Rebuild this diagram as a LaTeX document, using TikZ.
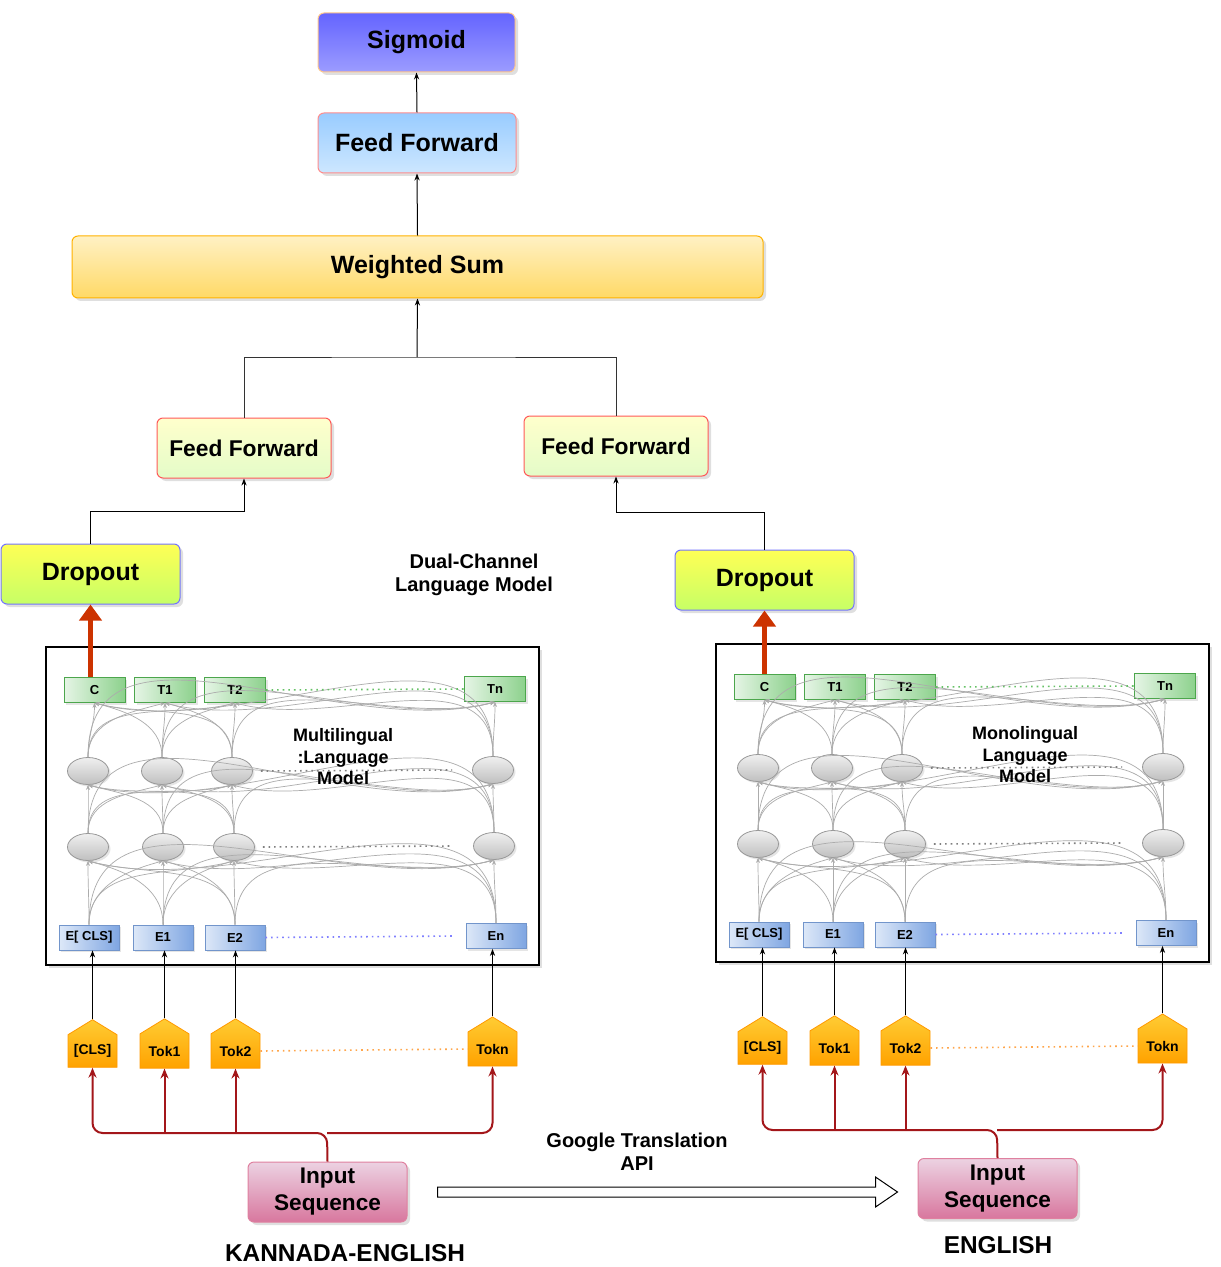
\documentclass[tikz,border=0pt]{standalone}
\usepackage{fontspec}
\setmainfont{Liberation Sans}
\usetikzlibrary{arrows.meta,shapes.geometric,shapes.symbols,shadows,calc}

\definecolor{sigtop}{HTML}{6464FF}
\definecolor{sigbot}{HTML}{9C9CFF}
\definecolor{fftop}{HTML}{99CCFF}
\definecolor{ffbot}{HTML}{CDE7FF}
\definecolor{wstop}{HTML}{FFF1C4}
\definecolor{wsbot}{HTML}{FFD966}
\definecolor{lftop}{HTML}{FFFFCC}
\definecolor{lfbot}{HTML}{E4FCC8}
\definecolor{droptop}{HTML}{FFFF55}
\definecolor{dropbot}{HTML}{C6FF66}
\definecolor{intop}{HTML}{ECD2E2}
\definecolor{inbot}{HTML}{D8779E}
\definecolor{toktop}{HTML}{FFCC33}
\definecolor{tokbot}{HTML}{FFA200}
\definecolor{embleft}{HTML}{DDE8F8}
\definecolor{embright}{HTML}{7FA6E2}
\definecolor{bigred}{HTML}{CC3300}
\definecolor{wirered}{HTML}{A3161A}

\tikzset{
  block/.style={rectangle, rounded corners=3pt, line width=0.5pt, inner sep=0pt,
    font=\bfseries\fontsize{12.5}{15}\selectfont,
    drop shadow={shadow xshift=1.5pt,shadow yshift=-1.5pt,opacity=0.25}},
  sigbox/.style={block, draw=orange!45, top color=sigtop, bottom color=sigbot,
    minimum width=98.5pt, minimum height=29.5pt},
  topff/.style={block, draw=red!45, top color=fftop, bottom color=ffbot,
    minimum width=99pt, minimum height=30pt},
  sumbox/.style={block, draw=orange!60!yellow, top color=wstop, bottom color=wsbot,
    minimum width=345.5pt, minimum height=31pt},
  lowff/.style={block, draw=red!65, top color=lftop, bottom color=lfbot,
    minimum height=30pt, font=\bfseries\fontsize{11.4}{14}\selectfont},
  dropbox/.style={block, draw=blue!55, top color=droptop, bottom color=dropbot,
    minimum width=89.5pt, minimum height=30pt},
  inbox/.style={block, draw=purple!50, top color=intop, bottom color=inbot,
    minimum width=79.5pt, minimum height=30pt, align=center,
    font=\bfseries\fontsize{11.3}{13.5}\selectfont},
  tbox/.style={rectangle, draw=green!50!black!70, left color=green!60!black!10,
    right color=green!60!black!45, minimum width=30.5pt, minimum height=12.5pt,
    inner sep=0pt, font=\bfseries\fontsize{6.5}{7}\selectfont,
    drop shadow={shadow xshift=1pt,shadow yshift=-1pt,opacity=0.2}},
  ebox/.style={rectangle, draw=embright!90!black, left color=embleft, right color=embright,
    minimum width=30pt, minimum height=12.5pt,
    inner sep=0pt, font=\bfseries\fontsize{6.5}{7}\selectfont,
    drop shadow={shadow xshift=1pt,shadow yshift=-1pt,opacity=0.2}},
  unit/.style={ellipse, draw=gray!80, top color=gray!12, bottom color=gray!50,
    minimum width=20.5pt, minimum height=13.5pt, inner sep=0pt,
    drop shadow={shadow xshift=1pt,shadow yshift=-1pt,opacity=0.2}},
  tok/.style={signal, signal to=north, signal from=nowhere, signal pointer angle=117,
    draw=orange!80!yellow, top color=toktop, bottom color=tokbot,
    minimum width=24.5pt, minimum height=22pt, inner sep=0pt,
    font=\bfseries\fontsize{7}{8}\selectfont},
  modelbox/.style={draw=black, line width=0.6pt, fill=white,
    drop shadow={shadow xshift=1.5pt,shadow yshift=-1.5pt,opacity=0.25}},
  modeltext/.style={align=center, font=\bfseries\fontsize{9}{10.75}\selectfont},
  lbl/.style={align=center, font=\bfseries\fontsize{10}{11.5}\selectfont},
  langlbl/.style={font=\bfseries\fontsize{12.2}{14}\selectfont},
  arr/.style={draw=black, line width=0.5pt, -{Stealth[length=3.5pt,width=2.6pt]}},
  wire/.style={draw=black!80, line width=0.5pt},
  attn/.style={draw=gray!65, line width=0.35pt, -{Stealth[length=2.5pt,width=2pt]}},
  redarr/.style={draw=bigred, line width=2.5pt, -{Triangle[length=8pt,width=11pt]}},
  redwire/.style={draw=wirered, line width=1pt, rounded corners=5pt,
    -{Stealth[length=5pt,width=4pt]}},
  apiarrow/.style={draw=black, line width=0.5pt, fill=white}
}

\begin{document}
\begin{tikzpicture}[x=0.5pt,y=-0.5pt]
\useasboundingbox (0,0) rectangle (1220,1267);

% classifier head
\node[sigbox] (sig) at (416.5,42.5) {Sigmoid};
\node[topff] (ff) at (417,143) {Feed Forward};
\node[sumbox] (ws) at (417.5,267) {Weighted Sum};
\draw[arr] (ff.north) -- (sig.south);
\draw[arr] (ws.north) -- (ff.south);

\node[lowff, minimum width=87pt] (LFF) at (244,448) {Feed Forward};
\node[lowff, minimum width=92pt] (RFF) at (616,446) {Feed Forward};
\coordinate (join) at (417,357);
\draw[wire] (LFF.north) |- (join) -| (RFF.north);
\draw[arr] (join) -- (ws.south);

\node[dropbox] (LDrop) at (90.5,574) {Dropout};
\node[dropbox] (RDrop) at (764.5,580) {Dropout};
\draw[arr] (LDrop.north) -- ++(0,-32) -| (LFF.south);
\draw[arr] (RDrop.north) -- ++(0,-37) -| (RFF.south);

\node[lbl] (dual) at (474,575) {Dual-Channel\\Language Model};

\begin{scope}[shift={(0,0)}] % multilingual channel
\draw[modelbox] (46,647) rectangle (539,965);
\node[tbox] (LT0) at (94.5,690) {C};
\node[tbox] (LT1) at (165,690) {T1};
\node[tbox] (LT2) at (235,690) {T2};
\node[tbox] (LT3) at (495,689) {Tn};
\node[unit] (LB0) at (88,771) {};
\node[unit] (LB1) at (162,771) {};
\node[unit] (LB2) at (232,771) {};
\node[unit] (LB3) at (493,770) {};
\node[unit] (LA0) at (88,847) {};
\node[unit] (LA1) at (163,847) {};
\node[unit] (LA2) at (234,847) {};
\node[unit] (LA3) at (494,846) {};
\node[ebox] (LE0) at (89,937.5) {E[ CLS]};
\node[ebox] (LE1) at (163,937.5) {E1};
\node[ebox] (LE2) at (235,937.5) {E2};
\node[ebox] (LE3) at (496,936) {En};
\foreach \s/\t in {LE/LA,LA/LB,LB/LT}
  \foreach \i in {0,...,3}
    \foreach \j in {0,...,3}
      {\ifnum\i<\j \def\ang{195}\else\ifnum\i>\j \def\ang{-15}\else\def\ang{-90}\fi\fi
       \draw[attn] (\s\i.north) to[out=90,in=\ang] (\t\j.south);}
\draw[dotted, thick, green!60!black!60] (LT2.east) -- (LT3.west);
\draw[dotted, thick, gray] ([xshift=4pt]LB2.east) -- ([xshift=-10pt]LB3.west);
\draw[dotted, thick, gray] ([xshift=4pt]LA2.east) -- ([xshift=-10pt]LA3.west);
\draw[dotted, thick, blue!50] (LE2.east) -- ([xshift=-6pt]LE3.west);
\node[modeltext] (Lname) at (343,757) {Multilingual\\:Language\\Model};
\node[tok] (LK0) at (92.5,1051) {[CLS]};
\node[tok] (LK1) at (164.5,1051) {Tok1};
\node[tok] (LK2) at (235.5,1051) {Tok2};
\node[tok] (LK3) at (492.5,1049) {Tokn};
\draw[dotted, thick, orange!70] (LK2.east) -- (LK3.west);
\foreach \i in {0,...,3}
  \draw[arr] (LK\i.north) -- (LK\i.north |- LE\i.south);
\end{scope}

\begin{scope}[shift={(670,-3)}] % monolingual channel
\draw[modelbox] (46,647) rectangle (539,965);
\node[tbox] (RT0) at (94.5,690) {C};
\node[tbox] (RT1) at (165,690) {T1};
\node[tbox] (RT2) at (235,690) {T2};
\node[tbox] (RT3) at (495,689) {Tn};
\node[unit] (RB0) at (88,771) {};
\node[unit] (RB1) at (162,771) {};
\node[unit] (RB2) at (232,771) {};
\node[unit] (RB3) at (493,770) {};
\node[unit] (RA0) at (88,847) {};
\node[unit] (RA1) at (163,847) {};
\node[unit] (RA2) at (235,847) {};
\node[unit] (RA3) at (493,846) {};
\node[ebox] (RE0) at (89,937.5) {E[ CLS]};
\node[ebox] (RE1) at (163,937.5) {E1};
\node[ebox] (RE2) at (235,937.5) {E2};
\node[ebox] (RE3) at (496,936) {En};
\foreach \s/\t in {RE/RA,RA/RB,RB/RT}
  \foreach \i in {0,...,3}
    \foreach \j in {0,...,3}
      {\ifnum\i<\j \def\ang{195}\else\ifnum\i>\j \def\ang{-15}\else\def\ang{-90}\fi\fi
       \draw[attn] (\s\i.north) to[out=90,in=\ang] (\t\j.south);}
\draw[dotted, thick, green!60!black!60] (RT2.east) -- (RT3.west);
\draw[dotted, thick, gray] ([xshift=4pt]RB2.east) -- ([xshift=-10pt]RB3.west);
\draw[dotted, thick, gray] ([xshift=4pt]RA2.east) -- ([xshift=-10pt]RA3.west);
\draw[dotted, thick, blue!50] (RE2.east) -- ([xshift=-6pt]RE3.west);
\node[modeltext] (Rname) at (355,758) {Monolingual\\Language\\Model};
\node[tok] (RK0) at (92.5,1051) {[CLS]};
\node[tok] (RK1) at (164.5,1051) {Tok1};
\node[tok] (RK2) at (235.5,1051) {Tok2};
\node[tok] (RK3) at (492.5,1049) {Tokn};
\draw[dotted, thick, orange!70] (RK2.east) -- (RK3.west);
\foreach \i in {0,...,3}
  \draw[arr] (RK\i.north) -- (RK\i.north |- RE\i.south);
\end{scope}

% outputs of the [CLS] positions
\draw[redarr] (LT0.north -| LDrop.south) -- (LDrop.south);
\draw[redarr] (RT0.north) -- (RT0.north |- RDrop.south);

% input sequences
\node[inbox] (LIn) at (327.5,1192) {Input\\Sequence};
\node[inbox] (RIn) at (997.5,1188.5) {Input\\Sequence};
\node[langlbl] (klbl) at (345,1253) {KANNADA-ENGLISH};
\node[langlbl] (elbl) at (998,1245) {ENGLISH};

\coordinate (LBus) at (327,1133);
\draw[redwire] (LIn.north) -- (LBus) -| (LK0.south);
\draw[redwire] (LBus) -| (LK3.south);
\draw[redwire] (LK1.south |- LBus) -- (LK1.south);
\draw[redwire] (LK2.south |- LBus) -- (LK2.south);

\coordinate (RBus) at (997,1130);
\draw[redwire] (RIn.north) -- (RBus) -| (RK0.south);
\draw[redwire] (RBus) -| (RK3.south);
\draw[redwire] (RK1.south |- RBus) -- (RK1.south);
\draw[redwire] (RK2.south |- RBus) -- (RK2.south);

% translation step
\coordinate (apiS) at ($(LIn.east)+(30,0)$);
\coordinate (apiE) at ($(RIn.west |- LIn.east)+(-20,0)$);
\draw[apiarrow] ($(apiS)+(0,-5)$) -- ($(apiE)+(-22,-5)$) -- ($(apiE)+(-22,-15)$) -- (apiE)
  -- ($(apiE)+(-22,15)$) -- ($(apiE)+(-22,5)$) -- ($(apiS)+(0,5)$) -- cycle;
\node[lbl] (api) at (637,1152) {Google Translation\\API};
\end{tikzpicture}
\end{document}
